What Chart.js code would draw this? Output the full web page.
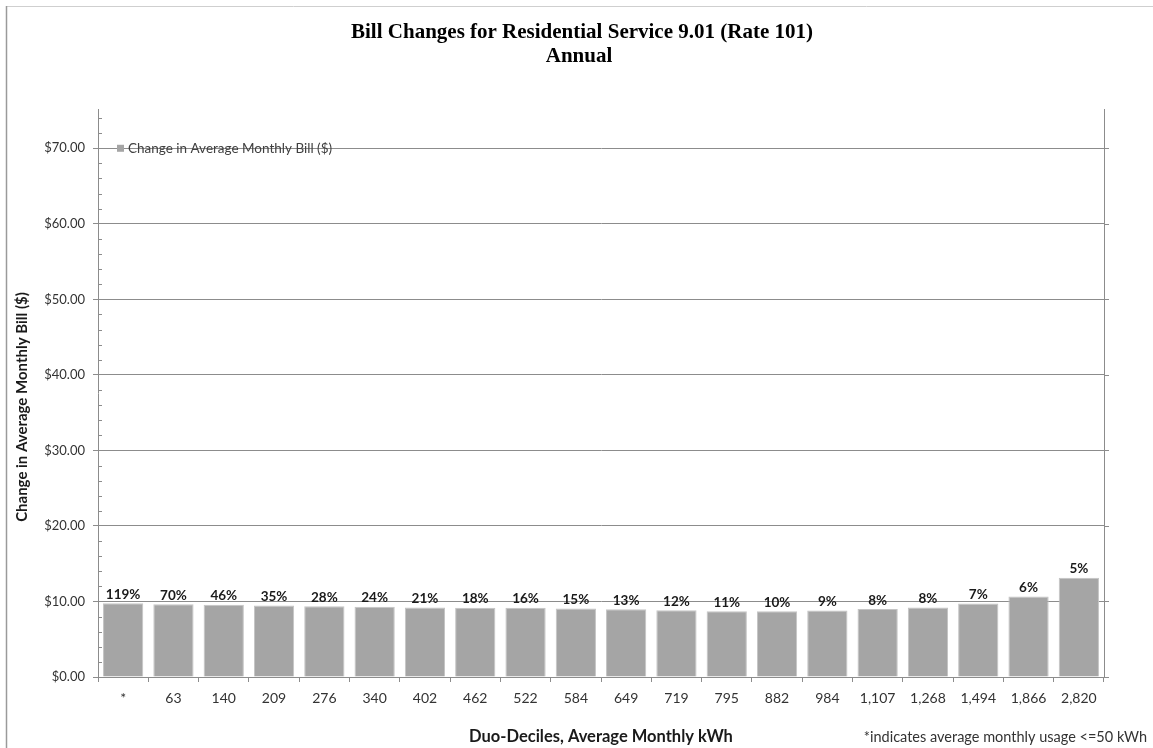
<!DOCTYPE html>
<html>
<head>
<meta charset="utf-8">
<script src="https://cdn.jsdelivr.net/npm/chart.js@4.4.1/dist/chart.umd.min.js"></script>
<style>
  html, body { margin: 0; padding: 0; background: #fff; }
  #wrap { width: 1153px; height: 748px; }
</style>
</head>
<body>
<div id="wrap"><canvas id="billChart" width="1153" height="748"></canvas></div>
<script>
// duo-decile usage buckets (average monthly kWh)
const kwhLabels = ['*', '63', '140', '209', '276', '340', '402', '462', '522', '584',
    '649', '719', '795', '882', '984', '1,107', '1,268', '1,494', '1,866', '2,820'];

// change in average monthly bill ($)
const billChange = [9.77, 9.64, 9.56, 9.47, 9.38, 9.29, 9.20, 9.16, 9.16, 9.07,
    8.98, 8.85, 8.71, 8.71, 8.80, 9.00, 9.20, 9.73, 10.66, 13.15];

// percent change shown above each bar
const pctChange = ['119%', '70%', '46%', '35%', '28%', '24%', '21%', '18%', '16%', '15%',
    '13%', '12%', '11%', '10%', '9%', '8%', '8%', '7%', '6%', '5%'];

const titleLines = ['Bill Changes for Residential Service 9.01 (Rate 101)', 'Annual'];
const seriesName = 'Change in Average Monthly Bill ($)';
const xTitle = 'Duo-Deciles, Average Monthly kWh';
const footNote = '*indicates average monthly usage <=50 kWh';

const axisGray = '#8c8c8c';
const barGray = '#a5a5a5';
const sans = 'Lato, "Open Sans", sans-serif';

// everything Chart.js doesn't draw on its own: frame, titles, labels, legend, minor ticks
const chartDecor = {
    id: 'chartDecor',
    beforeDraw(chart) {
        const ctx = chart.ctx;
        ctx.save();
        ctx.fillStyle = '#fff';
        ctx.fillRect(0, 0, chart.width, chart.height);
        // page frame
        ctx.strokeStyle = '#cfcfcf';
        ctx.lineWidth = 1;
        ctx.beginPath();
        ctx.moveTo(7, 6.5);
        ctx.lineTo(chart.width, 6.5);
        ctx.stroke();
        ctx.strokeStyle = '#9a9a9a';
        ctx.lineWidth = 1.5;
        ctx.beginPath();
        ctx.moveTo(6.5, 6);
        ctx.lineTo(6.5, chart.height);
        ctx.stroke();
        ctx.restore();
    },
    afterDraw(chart) {
        const ctx = chart.ctx;
        const area = chart.chartArea;
        const yScale = chart.scales.y;
        const xScale = chart.scales.x;
        ctx.save();

        // right-hand axis line with small outward ticks
        ctx.strokeStyle = axisGray;
        ctx.lineWidth = 1;
        ctx.beginPath();
        ctx.moveTo(area.right + 0.5, area.top);
        ctx.lineTo(area.right + 0.5, area.bottom);
        yScale.ticks.forEach(t => {
            const py = Math.round(yScale.getPixelForValue(t.value)) + 0.5;
            ctx.moveTo(area.right, py);
            ctx.lineTo(area.right + 5, py);
        });
        // minor ticks on the left axis every $2
        for (let v = 2; v < yScale.max; v += 2) {
            if (v % 10 === 0) continue;
            const py = Math.round(yScale.getPixelForValue(v)) + 0.5;
            ctx.moveTo(area.left, py);
            ctx.lineTo(area.left + 4, py);
        }
        ctx.stroke();

        // percent labels on top of the bars
        const meta = chart.getDatasetMeta(0);
        ctx.fillStyle = '#1a1a1a';
        ctx.font = 'bold 13.5px ' + sans;
        ctx.textAlign = 'center';
        ctx.textBaseline = 'bottom';
        meta.data.forEach((bar, i) => {
            ctx.fillText(pctChange[i], bar.x, bar.y - 2);
        });

        // legend sitting inside the plot
        const ly = yScale.getPixelForValue(70);
        ctx.fillStyle = barGray;
        ctx.fillRect(117, ly - 3.5, 7, 7);
        ctx.fillStyle = '#404040';
        ctx.font = '13.5px ' + sans;
        ctx.textAlign = 'left';
        ctx.textBaseline = 'middle';
        ctx.fillText(seriesName, 128, ly + 0.5);

        // chart title
        ctx.fillStyle = '#000';
        ctx.font = 'bold 21px "Liberation Serif", "Times New Roman", serif';
        ctx.textAlign = 'center';
        ctx.textBaseline = 'middle';
        ctx.fillText(titleLines[0], 582, 33);
        ctx.fillText(titleLines[1], 579, 57);

        // axis titles
        ctx.fillStyle = '#1a1a1a';
        ctx.font = 'bold 16.5px ' + sans;
        ctx.fillText(xTitle, (xScale.left + xScale.right) / 2, 737);
        ctx.font = 'bold 15px ' + sans;
        ctx.save();
        ctx.translate(22, 407);
        ctx.rotate(-Math.PI / 2);
        ctx.fillText(seriesName, 0, 0);
        ctx.restore();

        // footnote
        ctx.fillStyle = '#333';
        ctx.font = '14.5px ' + sans;
        ctx.textAlign = 'right';
        ctx.fillText(footNote, 1147, 737);

        ctx.restore();
    }
};

const billChart = new Chart(document.getElementById('billChart'), {
    type: 'bar',
    data: {
        labels: kwhLabels,
        datasets: [{
            label: seriesName,
            data: billChange,
            backgroundColor: barGray,
            borderColor: '#c4c4c4',
            borderWidth: 1,
            barPercentage: 0.8,
            categoryPercentage: 1.0
        }]
    },
    options: {
        responsive: false,
        animation: false,
        layout: {
            padding: { top: 109, right: 49, bottom: 0, left: 0 }
        },
        plugins: {
            legend: { display: false },
            title: { display: false },
            tooltip: { enabled: false }
        },
        scales: {
            x: {
                grid: {
                    display: true,
                    drawOnChartArea: false,
                    drawTicks: true,
                    tickLength: 5,
                    offset: true,
                    color: axisGray
                },
                border: { display: true, color: axisGray },
                ticks: {
                    autoSkip: false,
                    maxRotation: 0,
                    padding: 8,
                    color: '#333',
                    font: { family: sans, size: 14 }
                },
                afterFit: (scale) => { scale.height = 71; }
            },
            y: {
                min: 0,
                max: 75.2,
                grid: {
                    color: axisGray,
                    tickLength: 5
                },
                border: { display: true, color: axisGray },
                ticks: {
                    stepSize: 10,
                    padding: 8,
                    color: '#333',
                    font: { family: sans, size: 13 },
                    callback: (v) => '$' + Number(v).toFixed(2)
                },
                afterBuildTicks: (scale) => {
                    scale.ticks = scale.ticks.filter(t => t.value % 10 === 0);
                },
                afterFit: (scale) => { scale.width = 98; }
            }
        }
    },
    plugins: [chartDecor]
});
</script>
</body>
</html>
